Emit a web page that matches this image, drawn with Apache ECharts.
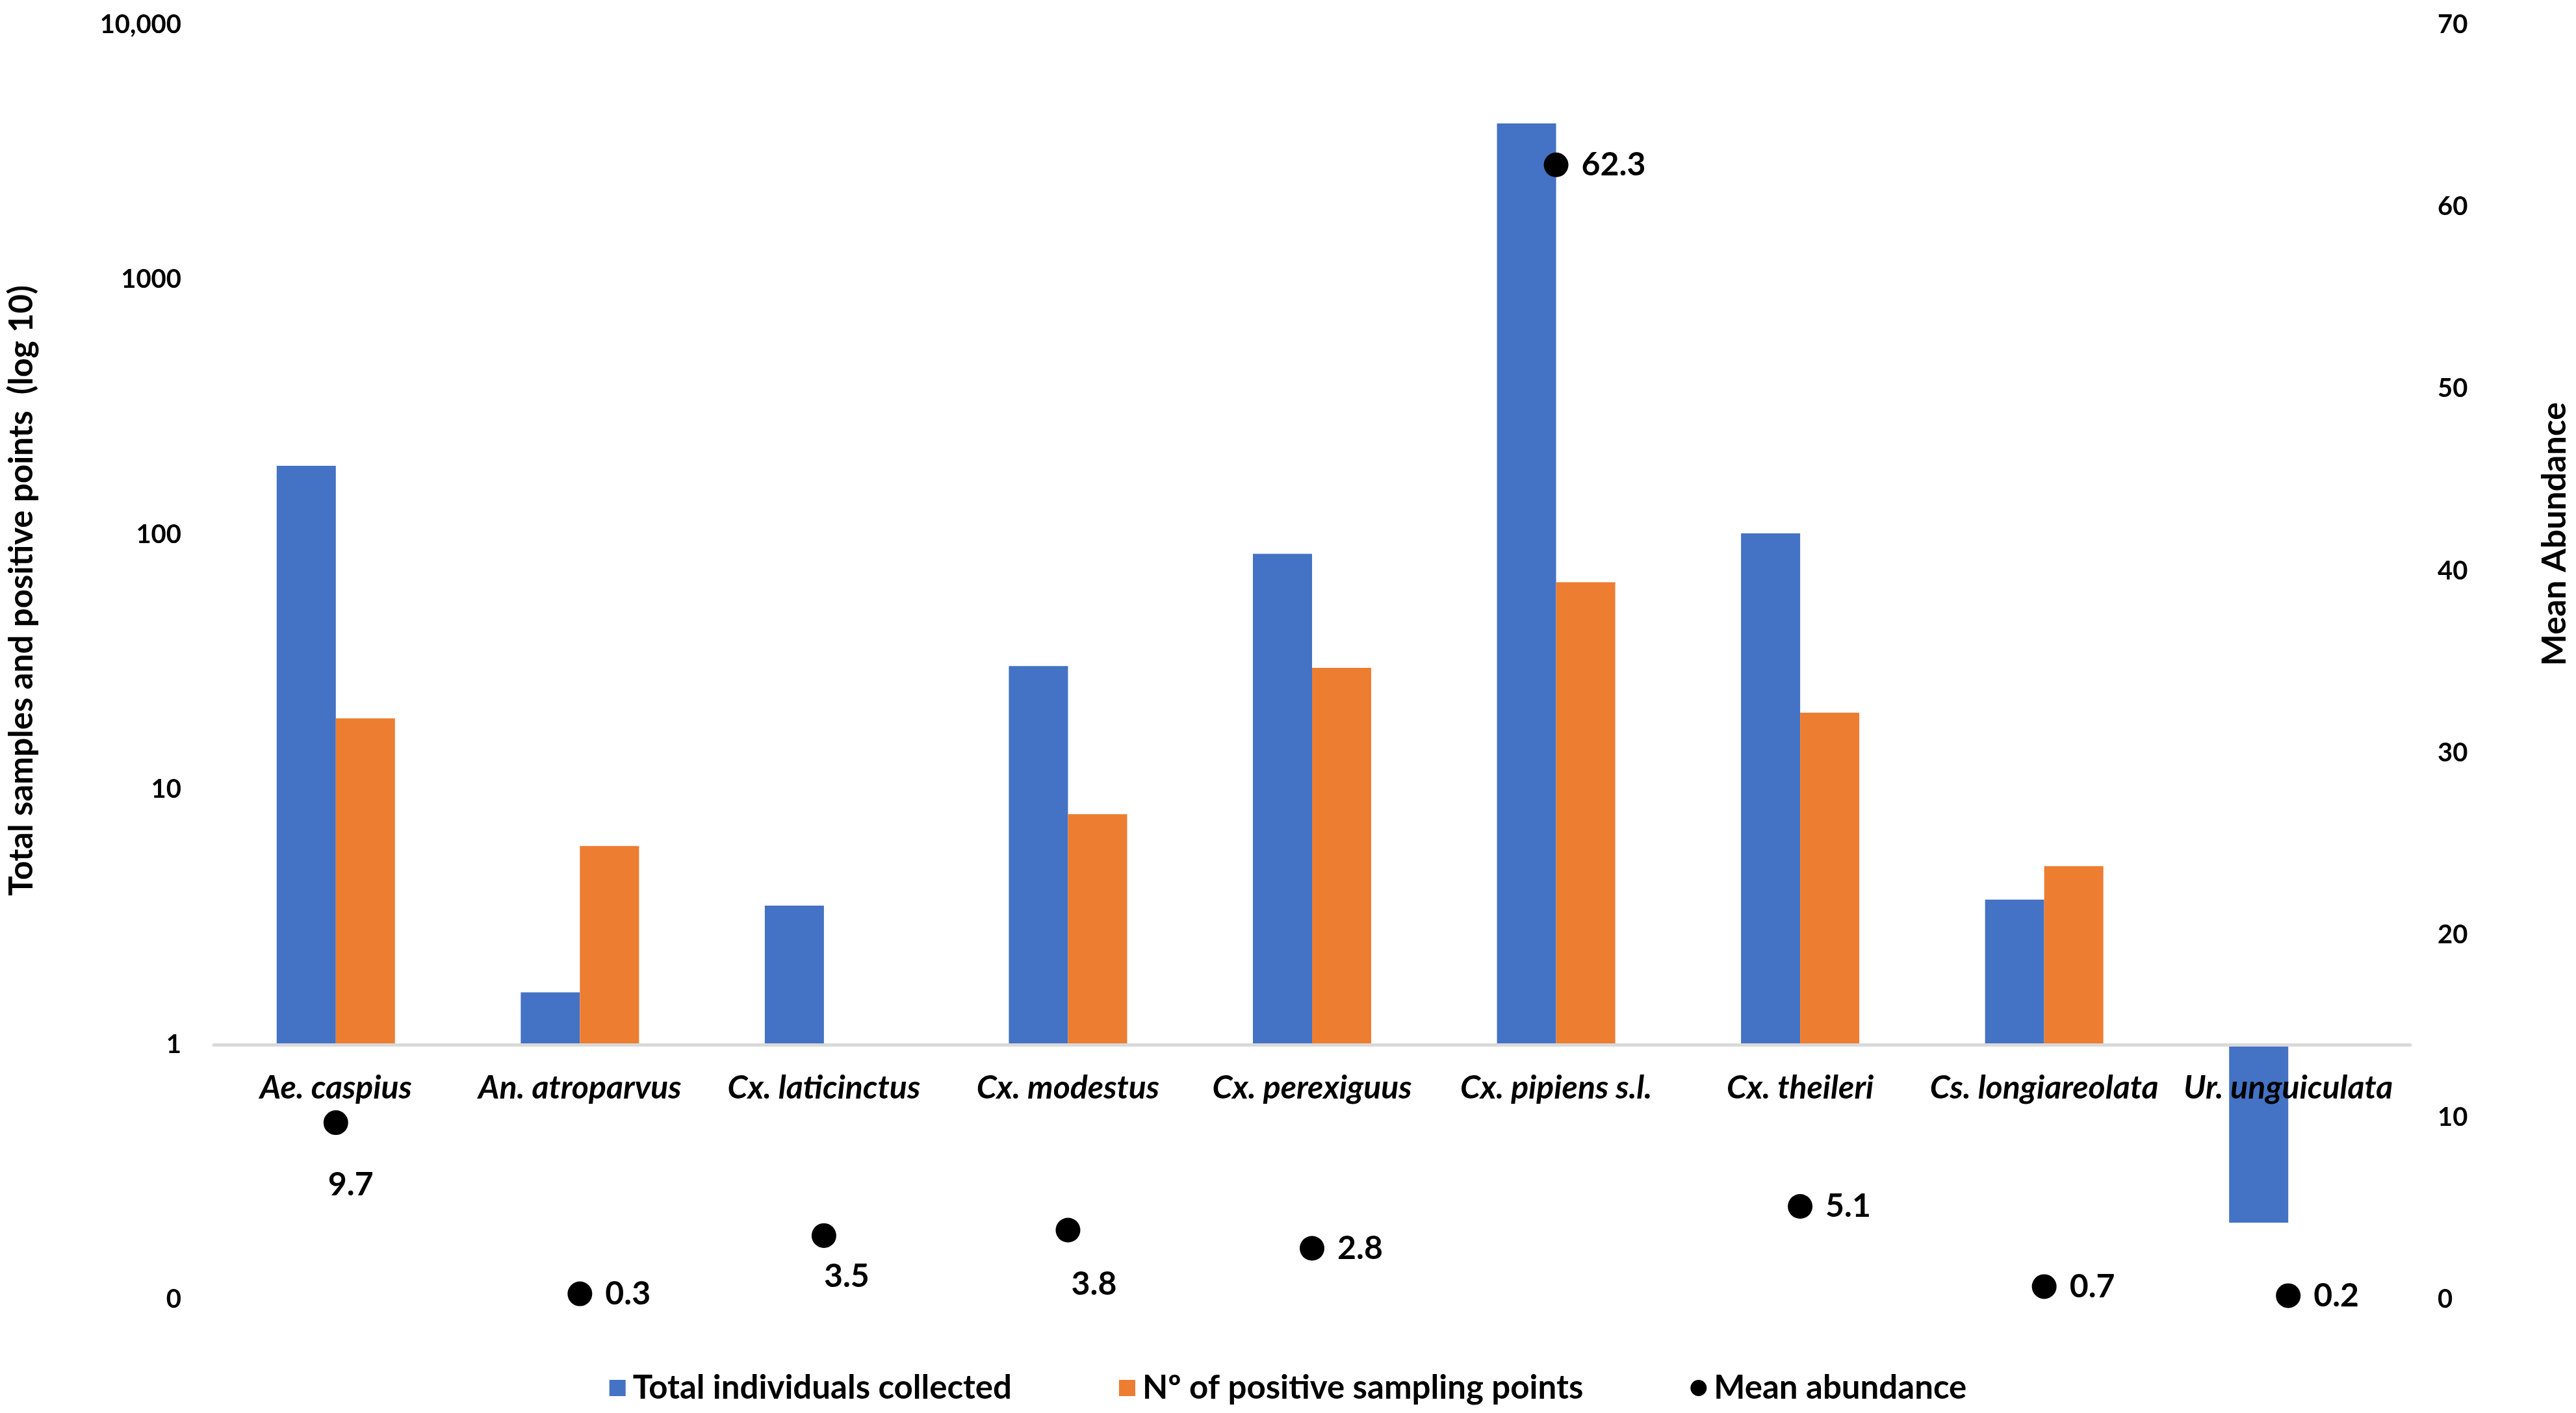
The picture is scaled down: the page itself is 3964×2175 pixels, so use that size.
<!DOCTYPE html>
<html>
<head>
<meta charset="utf-8">
<script src="https://cdn.jsdelivr.net/npm/echarts@6/dist/echarts.min.js"></script>
<style>
html,body{margin:0;padding:0;background:#fff;}
#chart{width:3964px;height:2175px;}
</style>
</head>
<body>
<div id="chart"></div>
<script>
// ---- data ----
var categories = ['Ae. caspius','An. atroparvus','Cx. laticinctus','Cx. modestus','Cx. perexiguus','Cx. pipiens s.l.','Cx. theileri','Cs. longiareolata','Ur. unguiculata'];
var totalIndividuals = [186, 1.6, 3.5, 30.5, 84, 4100, 101, 3.7, 0.2];
var positivePoints = [19, 6, null, 8, 30, 65, 20, 5, null];
var meanAbundance = [9.7, 0.3, 3.5, 3.8, 2.8, 62.3, 5.1, 0.7, 0.2];
var leftTickValues = [0.1, 1, 10, 100, 1000, 10000];
var leftTickLabels = ['0', '1', '10', '100', '1000', '10,000'];
var seriesNames = ['Total individuals collected', 'Nº of positive sampling points', 'Mean abundance'];

// ---- label placement (style) ----
var labelPlacement = {
  0: {position: 'inside', offset: [23, 96]},
  2: {position: 'inside', offset: [35, 63]},
  3: {position: 'inside', offset: [40, 83]}
};

var FONT = 'Lato';
var chart = echarts.init(document.getElementById('chart'), null, {renderer: 'canvas'});

function leftLabel(v) {
  for (var i = 0; i < leftTickValues.length; i++) {
    if (Math.abs(Math.log10(v) - Math.log10(leftTickValues[i])) < 1e-6) return leftTickLabels[i];
  }
  return '';
}

var scatterData = meanAbundance.map(function (v, i) {
  var item = {value: [i, v]};
  if (labelPlacement[i]) item.label = labelPlacement[i];
  return item;
});

var option = {
  backgroundColor: '#ffffff',
  animation: false,
  textStyle: {fontFamily: FONT},
  grid: {left: 329, right: 255, top: 38, bottom: 175, containLabel: false, outerBoundsMode: 'none'},
  legend: {
    bottom: 8,
    left: 'center',
    itemWidth: 25,
    itemHeight: 25,
    itemGap: 165,
    textStyle: {fontFamily: FONT, fontWeight: 'bold', fontSize: 51, color: '#000', padding: [0, 0, 0, 6]},
    data: [
      {name: seriesNames[0], icon: 'rect'},
      {name: seriesNames[1], icon: 'rect'},
      {name: seriesNames[2], icon: 'circle'}
    ]
  },
  xAxis: {
    type: 'category',
    data: categories,
    position: 'bottom',
    offset: -392,
    z: 10,
    axisLine: {onZero: false, show: true, lineStyle: {color: '#D9D9D9', width: 5}},
    axisTick: {show: false},
    splitLine: {show: false},
    axisLabel: {interval: 0, margin: 42, fontFamily: FONT, fontWeight: 'bold', fontStyle: 'italic', fontSize: 50, color: '#000'}
  },
  yAxis: [
    {
      type: 'log',
      logBase: 10,
      min: 0.1,
      max: 10000,
      name: 'Total samples and positive points  (log 10)',
      nameLocation: 'middle',
      nameGap: 270,
      nameRotate: 90,
      nameTextStyle: {fontFamily: FONT, fontWeight: 'bold', fontSize: 51, color: '#000', padding: [0, 0, 0, 220]},
      axisLine: {show: false},
      axisTick: {show: false},
      splitLine: {show: false},
      axisLabel: {margin: 50, fontFamily: FONT, fontWeight: 'bold', fontSize: 40, color: '#000', formatter: leftLabel}
    },
    {
      type: 'value',
      min: 0,
      max: 70,
      interval: 10,
      position: 'right',
      name: 'Mean Abundance',
      nameLocation: 'middle',
      nameGap: 196,
      nameRotate: 90,
      nameTextStyle: {fontFamily: FONT, fontWeight: 'bold', fontSize: 52, color: '#000', padding: [0, 0, 0, 394]},
      axisLine: {show: false},
      axisTick: {show: false},
      splitLine: {show: false},
      axisLabel: {margin: 42, fontFamily: FONT, fontWeight: 'bold', fontSize: 40, color: '#000'}
    }
  ],
  series: [
    {
      name: seriesNames[0],
      type: 'bar',
      yAxisIndex: 0,
      data: totalIndividuals,
      barWidth: 91,
      barGap: '0%',
      itemStyle: {color: '#4472C4'}
    },
    {
      name: seriesNames[1],
      type: 'bar',
      yAxisIndex: 0,
      data: positivePoints,
      barWidth: 91,
      barGap: '0%',
      itemStyle: {color: '#ED7D31'}
    },
    {
      name: seriesNames[2],
      type: 'scatter',
      yAxisIndex: 1,
      data: scatterData,
      symbol: 'circle',
      symbolSize: 38,
      z: 5,
      itemStyle: {color: '#000000', opacity: 1},
      label: {
        show: true,
        position: 'right',
        distance: 20,
        fontFamily: FONT,
        fontWeight: 'bold',
        fontSize: 50,
        color: '#000',
        formatter: function (p) { return String(p.value[1]); }
      }
    }
  ]
};
chart.setOption(option);
</script>
</body>
</html>
